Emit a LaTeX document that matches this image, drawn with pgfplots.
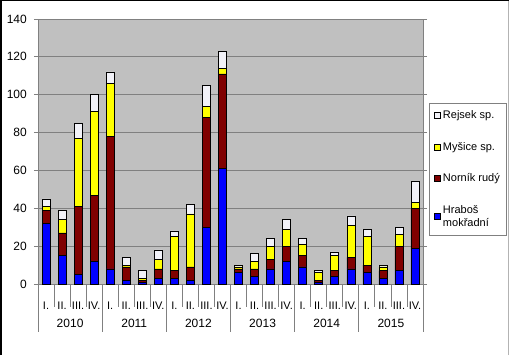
\documentclass[border=0pt]{standalone}
\usepackage{pgfplots}
\pgfplotsset{compat=1.18}
\usepackage{fontspec}
\setmainfont{Liberation Sans}
\definecolor{cBlue}{HTML}{0000FF}
\definecolor{cRed}{HTML}{800000}
\definecolor{cYel}{HTML}{FFFF00}
\definecolor{cWhite}{HTML}{F2F2F8}
\definecolor{cPlot}{HTML}{C0C0C0}
\definecolor{cGrid}{HTML}{808080}
\pgfplotstableread{
x blue red yellow white
0 32 7 2 4
1 15 12 7 5
2 5 36 36 8
3 12 35 44 9
4 8 70 28 6
5 2 7 1 4
6 1 1 1 4
7 3 5 5 5
8 3 4 18 3
9 2 7 28 5
10 30 58 6 11
11 61 50 3 9
12 6 2 1 1
13 4 4 4 4
14 8 5 7 4
15 12 8 9 5
16 9 6 6 3
17 1 1 4 1
18 4 3 8 2
19 8 6 17 5
20 6 4 15 4
21 3 4 2 1
22 7 13 6 4
23 19 21 3 11
}\data
\begin{document}
\fontsize{11bp}{13bp}\selectfont
\begin{tikzpicture}
\fill[white] (0,0) rectangle (510bp,355bp);
\draw[black,line width=1.5bp] (0.75bp,0) -- (0.75bp,354.25bp) -- (509.25bp,354.25bp);
\draw[cGrid!60,line width=0.8bp] (508bp,0) -- (508bp,354bp);
\begin{axis}[
  at={(38bp,71bp)}, anchor=south west,
  scale only axis, width=385bp, height=265bp,
  ybar stacked, bar width=8bp,
  xmin=-0.5, xmax=23.5, ymin=0, ymax=140,
  ytick={0,20,...,140},
  xtick={0,...,23},
  xticklabels={I.,II.,III.,IV.,I.,II.,III.,IV.,I.,II.,III.,IV.,I.,II.,III.,IV.,I.,II.,III.,IV.,I.,II.,III.,IV.},
  x tick style={draw=none},
  xticklabel style={anchor=base, yshift=-21bp, inner sep=0pt, font=\fontsize{11bp}{13bp}\selectfont},
  ytick style={draw=cGrid, line width=0.8bp},
  tick align=outside, major tick length=4bp,
  yticklabel style={anchor=east, inner sep=0pt, xshift=-7bp, font=\fontsize{12bp}{14bp}\selectfont},
  /pgf/number format/assume math mode=true,
  axis background/.style={fill=cPlot},
  axis line style={draw=cGrid, line width=0.8bp},
  ymajorgrids, grid style={draw=cGrid, line width=0.8bp},
  every axis plot post/.append style={draw=black, line width=0.6bp,
    legend image code/.code={\draw[##1,draw=black,line width=0.6bp] (0bp,-3bp) rectangle (6bp,3bp);}},
  reverse legend,
  legend style={at={(1.0156,0.683)}, anchor=north west, draw=cGrid, fill=white,
    line width=0.8bp, font=\fontsize{11bp}{13bp}\selectfont, row sep=18bp,
    inner xsep=5bp, inner ysep=5bp,
    cells={anchor=west, align=left}},
  clip=false,
]
\addplot[fill=cBlue] table[x=x,y=blue]{\data};
\addlegendentry{Hraboš\\mokřadní}
\addplot[fill=cRed] table[x=x,y=red]{\data};
\addlegendentry{Norník rudý}
\addplot[fill=cYel] table[x=x,y=yellow]{\data};
\addlegendentry{Myšice sp.}
\addplot[fill=cWhite] table[x=x,y=white]{\data};
\addlegendentry{Rejsek sp.}
\end{axis}
\foreach \k in {0,...,24}{
  \pgfmathsetmacro{\xx}{38+\k*385/24}
  \pgfmathtruncatemacro{\m}{mod(\k,4)}
  \ifnum\m=0
    \draw[cGrid,line width=0.8bp] (\xx bp,71bp) -- (\xx bp,23bp);
  \else
    \draw[cGrid,line width=0.8bp] (\xx bp,71bp) -- (\xx bp,48bp);
  \fi
}
\foreach \y [count=\i from 0] in {2010,2011,2012,2013,2014,2015}{
  \pgfmathsetmacro{\xx}{38+(4*\i+2)*385/24}
  \node[anchor=base, inner sep=0pt, font=\fontsize{12bp}{14bp}\selectfont] at (\xx bp,28bp) {\y};
}
\end{tikzpicture}
\end{document}
